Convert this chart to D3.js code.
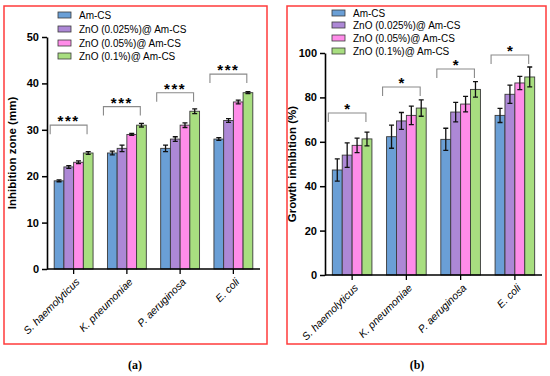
<!DOCTYPE html>
<html>
<head>
<meta charset="utf-8">
<script src="https://cdn.jsdelivr.net/npm/d3@7"></script>
<style>
  body { margin: 0; background: #fff; }
  svg { display: block; font-family: Arial, "Liberation Sans", sans-serif; }
</style>
</head>
<body>
<svg id="chart" width="550" height="376"></svg>
<script>
// categories and series
const bacteria = ["S. haemolyticus", "K. pneumoniae", "P. aeruginosa", "E. coli"];
const seriesNames = ["Am-CS", "ZnO (0.025%)@ Am-CS", "ZnO (0.05%)@ Am-CS", "ZnO (0.1%)@ Am-CS"];
const seriesColors = ["#6a9fd6", "#ad88d6", "#ff8ce9", "#a8de80"];

// panel (a): inhibition zone (mm), rows = bacteria, cols = series
const zoneValues = [
    [19, 22, 23, 25],
    [25, 26, 29, 31],
    [26, 28, 31, 34],
    [28, 32, 36, 38]
];
const zoneErrors = [
    [0.2, 0.3, 0.3, 0.3],
    [0.4, 0.7, 0.2, 0.4],
    [0.7, 0.5, 0.5, 0.5],
    [0.3, 0.4, 0.4, 0.2]
];
const zoneBrackets = [31, 35, 38, 42];
const zoneTicks = [0, 10, 20, 30, 40, 50];

// panel (b): growth inhibition (%)
const growthValues = [
    [47.3, 54, 58.4, 61.3],
    [62.3, 69.4, 71.9, 75.2],
    [61.1, 73.4, 77, 83.6],
    [71.9, 81.4, 86.5, 89.2]
];
const growthErrors = [
    [5, 5.5, 3.3, 3.1],
    [5.2, 3.8, 4.2, 3.7],
    [5, 4.4, 3.5, 3.5],
    [3.2, 4.1, 3, 4.5]
];
const growthBrackets = [73, 84.7, 92.8, 99.1];
const growthTicks = [0, 20, 40, 60, 80, 100];

const svg = d3.select("#chart");

function drawPanel(cfg) {
    const g = svg.append("g");

    // red frame
    g.append("rect")
        .attr("x", cfg.frame[0]).attr("y", cfg.frame[1])
        .attr("width", cfg.frame[2]).attr("height", cfg.frame[3])
        .attr("fill", "none").attr("stroke", "#ff3b3b").attr("stroke-width", 1.5);

    const y = d3.scaleLinear().domain(cfg.yDomain).range([cfg.y0, cfg.yTop]);
    const x0 = d3.scaleBand().domain(bacteria).range(cfg.xRange).paddingInner(0.27).paddingOuter(0.135);
    const x1 = d3.scaleBand().domain(d3.range(seriesNames.length)).range([0, x0.bandwidth()]);

    // bars
    bacteria.forEach((b, i) => {
        const grp = g.append("g").attr("transform", `translate(${x0(b)},0)`);
        cfg.values[i].forEach((v, j) => {
            grp.append("rect")
                .attr("x", x1(j)).attr("y", y(v))
                .attr("width", x1.bandwidth()).attr("height", y(0) - y(v))
                .attr("fill", seriesColors[j])
                .attr("stroke", "#3a3a3a").attr("stroke-width", 0.9);
        });
        // error bars
        cfg.values[i].forEach((v, j) => {
            const cx = x1(j) + x1.bandwidth() / 2;
            const e = cfg.errors[i][j];
            const path = `M${cx},${y(v - e)}V${y(v + e)}M${cx - 2.5},${y(v + e)}H${cx + 2.5}M${cx - 2.5},${y(v - e)}H${cx + 2.5}`;
            grp.append("path").attr("d", path)
                .attr("stroke", "#111").attr("stroke-width", 1.3).attr("fill", "none");
        });
        // significance bracket
        const bx0 = x0(b) - 4, bx1 = x0(b) + x0.bandwidth() - 6;
        const by = y(cfg.brackets[i]);
        g.append("path")
            .attr("d", `M${bx0},${by + 9}V${by}H${bx1}V${by + 9}`)
            .attr("fill", "none").attr("stroke", "#8a8a8a").attr("stroke-width", 1.1);
        g.append("text")
            .attr("x", (bx0 + bx1) / 2).attr("y", by + 1)
            .attr("text-anchor", "middle")
            .attr("font-size", 15).attr("font-weight", "bold")
            .attr("letter-spacing", cfg.stars.length > 1 ? 1.5 : 0)
            .text(cfg.stars);
    });

    // y axis
    const yAxis = g.append("g")
        .attr("transform", `translate(${cfg.xAxisStart},0)`)
        .call(d3.axisLeft(y).tickValues(cfg.ticks).tickSize(5).tickSizeOuter(0));
    yAxis.select(".domain").attr("stroke-width", 1.6);
    yAxis.selectAll(".tick line").attr("stroke-width", 1.5);
    yAxis.selectAll("text").attr("font-size", 11).attr("font-weight", "bold")
        .attr("font-family", "Arial, 'Liberation Sans', sans-serif").attr("fill", "#000");

    // x axis
    const xAxis = g.append("g")
        .attr("transform", `translate(0,${cfg.y0})`)
        .call(d3.axisBottom(x0).tickSize(5).tickSizeOuter(0));
    xAxis.select(".domain").attr("d", `M${cfg.xAxisStart},0H${cfg.xAxisEnd}`).attr("stroke-width", 1.6);
    xAxis.selectAll(".tick line").attr("stroke-width", 1.3);
    xAxis.selectAll("text")
        .attr("font-size", 10.5).attr("font-style", "italic")
        .attr("font-family", "Arial, 'Liberation Sans', sans-serif").attr("fill", "#000")
        .attr("text-anchor", "end")
        .attr("x", 0).attr("y", 0).attr("dy", "0.35em")
        .attr("transform", "translate(4,11) rotate(-45)");

    // y label
    g.append("text")
        .attr("transform", `translate(${cfg.yLabelX},${(cfg.y0 + cfg.yTop) / 2}) rotate(-90)`)
        .attr("text-anchor", "middle")
        .attr("font-size", 11.5).attr("font-weight", "bold")
        .text(cfg.yLabel);

    // legend
    seriesNames.forEach((name, j) => {
        const ly = cfg.legendY[j];
        g.append("rect")
            .attr("x", cfg.legendX).attr("y", ly - 3)
            .attr("width", 13).attr("height", 6)
            .attr("fill", seriesColors[j]).attr("stroke", "#3a3a3a").attr("stroke-width", 0.8);
        g.append("text")
            .attr("x", cfg.legendX + 21).attr("y", ly + 3.5)
            .attr("font-size", 10).text(name);
    });

    // caption
    g.append("text")
        .attr("x", cfg.captionX).attr("y", 369)
        .attr("text-anchor", "middle")
        .attr("font-family", "'Liberation Serif', 'DejaVu Serif', serif")
        .attr("font-size", 12).attr("font-weight", "bold")
        .text(cfg.caption);
}

drawPanel({
    frame: [4, 6, 263, 338],
    yDomain: [0, 50], y0: 269, yTop: 37,
    xRange: [47, 260], xAxisStart: 47, xAxisEnd: 260,
    values: zoneValues, errors: zoneErrors, brackets: zoneBrackets,
    ticks: zoneTicks, stars: "***",
    yLabel: "Inhibition zone (mm)", yLabelX: 16,
    legendX: 58, legendY: [15, 29, 43, 56],
    caption: "(a)", captionX: 135
});

drawPanel({
    frame: [287, 6, 259, 338],
    yDomain: [0, 100], y0: 275, yTop: 53,
    xRange: [325, 542], xAxisStart: 325, xAxisEnd: 542,
    values: growthValues, errors: growthErrors, brackets: growthBrackets,
    ticks: growthTicks, stars: "*",
    yLabel: "Growth inhibition (%)", yLabelX: 296,
    legendX: 332, legendY: [13, 25, 38, 51],
    caption: "(b)", captionX: 417
});
</script>
</body>
</html>
